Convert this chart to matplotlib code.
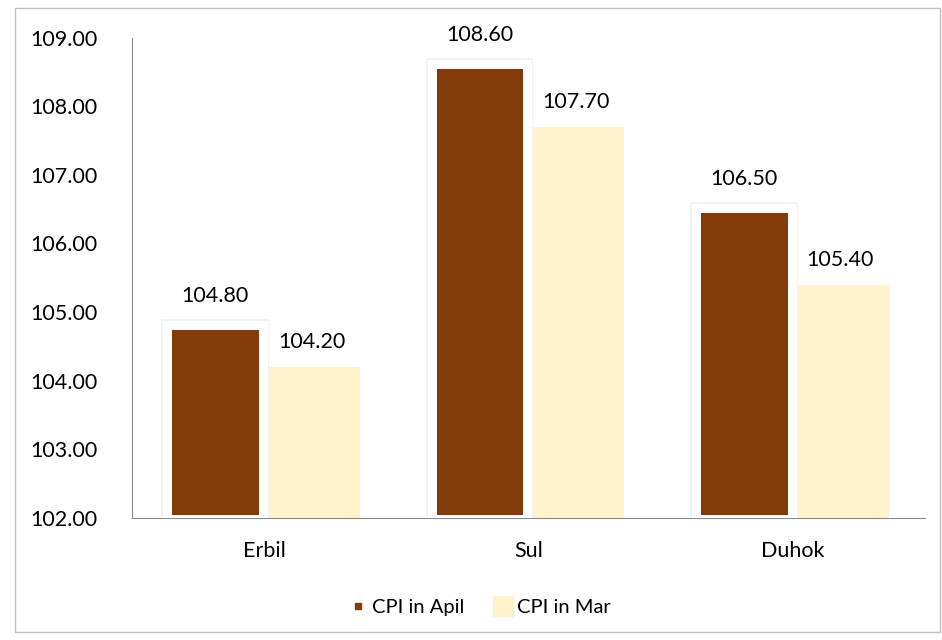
import numpy as np
import matplotlib.pyplot as plt
import matplotlib.patheffects as pe
from matplotlib.lines import Line2D
from matplotlib.patches import Rectangle

# data
regions = ['Erbil', 'Sul', 'Duhok']
cpi_apr = [104.80, 108.60, 106.50]
cpi_mar = [104.20, 107.70, 105.40]

brown = '#843C0C'
cream = '#FFF2CC'

plt.rcParams['font.family'] = ['Lato', 'DejaVu Sans']

fig = plt.figure(figsize=(9.42, 6.4), dpi=100)
ax = fig.add_axes([0.140, 0.191, 0.842, 0.750])

# outer chart border
fig.patches.append(Rectangle((15 / 942, 1 - 632 / 640), 925 / 942, 624 / 640,
                             transform=fig.transFigure, fill=False,
                             edgecolor='#BFBFBF', linewidth=1))

x = np.arange(len(regions))
w = 0.355
b1 = ax.bar(x - 0.185, np.array(cpi_apr) - 102, w, bottom=102, color=brown,
            edgecolor='white', linewidth=5, zorder=3,
            path_effects=[pe.Stroke(linewidth=10, foreground='#F3F3F3'),
                          pe.Stroke(linewidth=8, foreground='white'),
                          pe.Normal()])
b2 = ax.bar(x + 0.18, np.array(cpi_mar) - 102, 0.365, bottom=102, color=cream,
            zorder=2)

for xi, v in zip(x - 0.185, cpi_apr):
    ax.text(xi, v + 0.44, f'{v:.2f}', ha='center', va='center', fontsize=15.5)
for xi, v in zip(x + 0.18, cpi_mar):
    ax.text(xi, v + 0.36, f'{v:.2f}', ha='center', va='center', fontsize=15.5)

ax.set_ylim(102, 109)
ax.set_xlim(-0.5, 2.5)
ax.set_yticks(np.arange(102, 110, 1))
ax.set_yticklabels([f'{t:.2f}' for t in range(102, 110)])
ax.set_xticks(x)
ax.set_xticklabels(regions)
ax.tick_params(axis='y', length=0, pad=25, labelsize=15.5)
ax.tick_params(axis='x', length=0, pad=17, labelsize=15.5)

for s in ['top', 'right']:
    ax.spines[s].set_visible(False)
ax.spines['left'].set_color('#8C8C8C')
ax.spines['bottom'].set_color('#8C8C8C')

handles = [Line2D([], [], marker='s', color='none', markerfacecolor=brown,
                  markeredgecolor=brown, markersize=4),
           Line2D([], [], marker='s', color='none', markerfacecolor=cream,
                  markeredgecolor=cream, markersize=14)]
fig.legend(handles, ['CPI in Apil', 'CPI in Mar'], loc='center',
           bbox_to_anchor=(0.51, 1 - 607 / 640), ncol=2, frameon=False,
           fontsize=14.5, handlelength=0.8, handletextpad=0.3, columnspacing=1.5)

fig.savefig('out.png', dpi=100)
